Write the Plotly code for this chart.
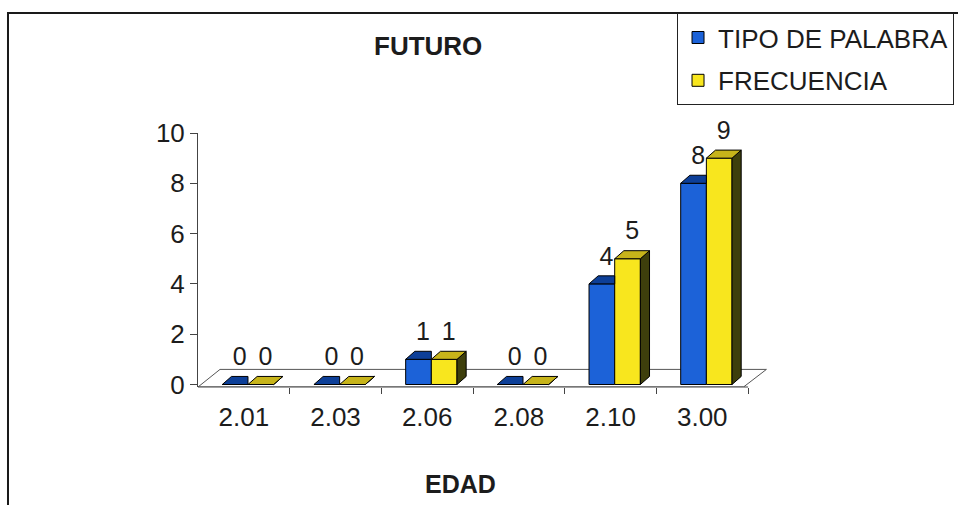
import plotly.graph_objects as go

# ---- data ----
edad = ["2.01", "2.03", "2.06", "2.08", "2.10", "3.00"]
tipo_de_palabra = [0, 0, 1, 0, 4, 8]
frecuencia = [0, 0, 1, 0, 5, 9]
y_ticks = [0, 2, 4, 6, 8, 10]

# ---- styling / geometry of the pseudo-3D bars ----
FONT = "Arial, Liberation Sans, sans-serif"
TXT = "#1c1c1c"
BLUE_FRONT, BLUE_TOP, BLUE_SIDE = "#1c62d8", "#0d3f98", "#0a2560"
YEL_FRONT, YEL_TOP, YEL_SIDE = "#f8e61e", "#c7b41a", "#3e3f0c"
BAR_W = 0.28          # width of each front face (category units)
OFF_B, OFF_Y = -0.095, 0.185   # centre offsets inside a category
DX, DY = 0.10, 0.32   # depth offset of the bar tops / sides

idx = list(range(len(edad)))
xb = [i + OFF_B for i in idx]
xy = [i + OFF_Y for i in idx]

fig = go.Figure()

# front faces
fig.add_trace(go.Bar(x=xb, y=tipo_de_palabra, width=BAR_W, name="TIPO DE PALABRA",
                     legendgroup="a",
                     marker=dict(color=BLUE_FRONT, line=dict(color="#000", width=1)),
                     hoverinfo="skip"))
fig.add_trace(go.Bar(x=xy, y=frecuencia, width=BAR_W, name="FRECUENCIA",
                     legendgroup="b",
                     marker=dict(color=YEL_FRONT, line=dict(color="#000", width=1)),
                     hoverinfo="skip"))


def poly_trace(xs, ys, color):
    return go.Scatter(x=xs, y=ys, mode="lines", fill="toself", fillcolor=color,
                      line=dict(color="#000", width=1), showlegend=False,
                      hoverinfo="skip")


# top and side faces computed from the same values
bt_x, bt_y, bs_x, bs_y = [], [], [], []
yt_x, yt_y, ys_x, ys_y = [], [], [], []
for i in idx:
    b, f = tipo_de_palabra[i], frecuencia[i]
    x0 = xb[i] - BAR_W / 2
    x1 = xb[i] + BAR_W / 2
    x2 = xy[i] + BAR_W / 2
    if f >= b:
        # right part of the blue top sits behind the yellow bar
        bt_x += [x0, x1, x1, x0 + DX, x0, None]
        bt_y += [b, b, b + DY, b + DY, b, None]
    else:
        bt_x += [x0, x1, x1 + DX, x0 + DX, x0, None]
        bt_y += [b, b, b + DY, b + DY, b, None]
        bs_x += [x1, x1, x1 + DX, x1 + DX, x1, None]
        bs_y += [f, b, b + DY, f + DY, f, None]
    yt_x += [x1, x2, x2 + DX, x1 + DX, x1, None]
    yt_y += [f, f, f + DY, f + DY, f, None]
    ys_x += [x2, x2, x2 + DX, x2 + DX, x2, None]
    ys_y += [0, f, f + DY, DY, 0, None]

fig.add_trace(poly_trace(bt_x, bt_y, BLUE_TOP))
if bs_x:
    fig.add_trace(poly_trace(bs_x, bs_y, BLUE_SIDE))
fig.add_trace(poly_trace(ys_x, ys_y, YEL_SIDE))
fig.add_trace(poly_trace(yt_x, yt_y, YEL_TOP))

# value labels
fig.add_trace(go.Scatter(
    x=[x + DX / 2 for x in xb] + [x + DX / 2 for x in xy],
    y=[v + DY + 0.2 for v in tipo_de_palabra] + [v + DY + 0.2 for v in frecuencia],
    text=[str(v) for v in tipo_de_palabra] + [str(v) for v in frecuencia],
    mode="text", textposition="top center",
    textfont=dict(family=FONT, size=25, color=TXT),
    showlegend=False, hoverinfo="skip", cliponaxis=False))

# floor of the 3D plot area
n = len(edad)
fig.add_shape(type="path", xref="x", yref="y", layer="below",
              path=f"M -0.5,-0.1 L {n - 0.55},-0.1 L {n - 0.3},0.6 L -0.26,0.6 Z",
              fillcolor="white", line=dict(color="#555", width=1))
# category axis line
fig.add_shape(type="line", xref="x", yref="paper", x0=-0.5, x1=n - 0.5, y0=0, y1=0,
              line=dict(color="#444", width=1))

# outer chart frame
fig.add_shape(type="rect", xref="paper", yref="paper",
              x0=-0.3316, x1=1.3355, y0=-0.6, y1=1.472,
              line=dict(color="#1a1a1a", width=2))

fig.add_annotation(text="<b>FUTURO</b>", xref="paper", yref="paper",
                   x=0.304, y=1.343, yanchor="middle", showarrow=False,
                   font=dict(family=FONT, size=26, color=TXT))
fig.add_annotation(text="<b>EDAD</b>", xref="paper", yref="paper",
                   x=0.458, y=-0.38, yanchor="middle", showarrow=False,
                   font=dict(family=FONT, size=25, color=TXT))

fig.update_layout(
    width=958, height=505,
    margin=dict(l=198, r=187, t=133, b=118, autoexpand=False),
    paper_bgcolor="white", plot_bgcolor="white",
    barmode="overlay",
    showlegend=True,
    legend=dict(x=0.836, y=1.472, xanchor="left", yanchor="top",
                bordercolor="#222", borderwidth=1, bgcolor="white",
                font=dict(family=FONT, size=26, color=TXT),
                tracegroupgap=6, traceorder="grouped"),
    xaxis=dict(range=[-0.5, n - 0.25], tickmode="array", tickvals=idx, ticktext=edad,
               ticks="", showline=False, showgrid=False, zeroline=False,
               ticklabelstandoff=12,
               tickfont=dict(family=FONT, size=26, color=TXT),
               minor=dict(tickmode="array", tickvals=[i + 0.5 for i in idx],
                          ticks="outside", ticklen=6, tickcolor="#444", showgrid=False)),
    yaxis=dict(range=[-0.1, 10], tickmode="array", tickvals=y_ticks,
               ticks="outside", ticklen=7, tickcolor="#444",
               showline=True, linecolor="#444", linewidth=1,
               showgrid=False, zeroline=False,
               tickfont=dict(family=FONT, size=26, color=TXT)),
)

fig.write_html("out.html")
